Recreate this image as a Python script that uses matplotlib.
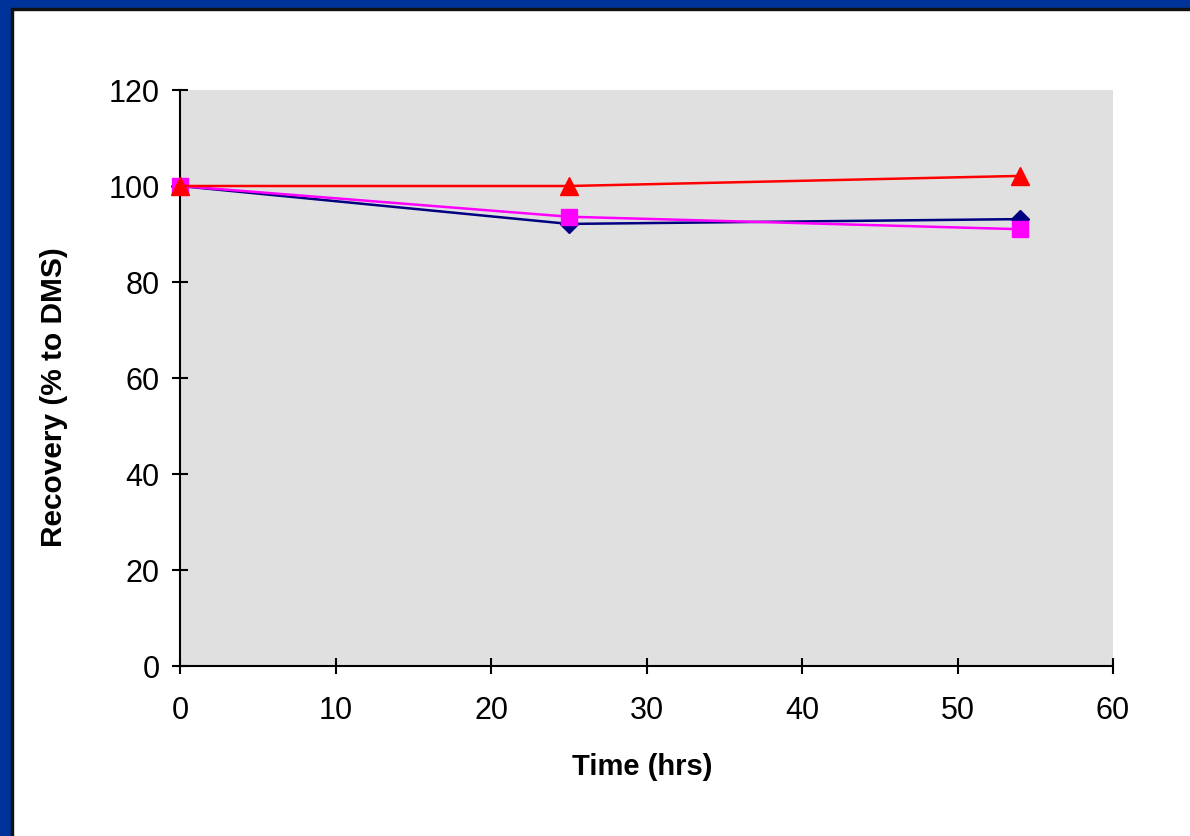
from matplotlib import pyplot as plt
from matplotlib.patches import Rectangle

# Recovery vs time, three series
time_hrs = [0, 25, 54]
series_blue = [100, 92.1, 93.1]
series_magenta = [100, 93.6, 91.0]
series_red = [100, 100, 102.1]

x_ticks = [0, 10, 20, 30, 40, 50, 60]
y_ticks = [0, 20, 40, 60, 80, 100, 120]

plt.rcParams['font.family'] = ['Liberation Sans', 'DejaVu Sans']

W, H = 1190, 836
fig = plt.figure(figsize=(W / 100, H / 100), dpi=100)
fig.patch.set_facecolor('white')

# slide-style frame: blue band left and top with a thin dark line inside
fig.patches.append(Rectangle((0, 0), 11 / W, 1, transform=fig.transFigure,
                             color='#003399', zorder=0))
fig.patches.append(Rectangle((0, 1 - 8 / H), 1, 8 / H, transform=fig.transFigure,
                             color='#003399', zorder=0))
fig.patches.append(Rectangle((11 / W, 0), 2 / W, 1 - 8 / H, transform=fig.transFigure,
                             color='#111111', zorder=1))
fig.patches.append(Rectangle((11 / W, 1 - 10 / H), 1 - 11 / W, 2 / H,
                             transform=fig.transFigure, color='#111111', zorder=1))

ax = fig.add_axes([180 / W, (H - 666) / H, (1113 - 180) / W, (666 - 90) / H])
ax.set_facecolor('#e0e0e0')

ax.plot(time_hrs, series_blue, color='#000080', lw=1.8, marker='D', markersize=9,
        clip_on=False, zorder=3)
ax.plot(time_hrs, series_magenta, color='#ff00ff', lw=1.8, marker='s', markersize=11,
        clip_on=False, zorder=4)
ax.plot(time_hrs, series_red, color='#ff0000', lw=1.8, marker='^', markersize=13,
        clip_on=False, zorder=5)

ax.set_xlim(0, 60)
ax.set_ylim(0, 120)
ax.set_xticks(x_ticks)
ax.set_yticks(y_ticks)

for side in ['top', 'right']:
    ax.spines[side].set_visible(False)
for side in ['left', 'bottom']:
    ax.spines[side].set_linewidth(1.5)

ax.tick_params(axis='both', direction='inout', length=11, width=1.5, labelsize=22)
ax.tick_params(axis='y', pad=9)
ax.tick_params(axis='x', pad=16)

ax.set_xlabel('Time (hrs)', fontsize=21, fontweight='bold')
ax.set_ylabel('Recovery (% to DMS)', fontsize=21.5, fontweight='bold')
ax.xaxis.set_label_coords(0.495, -0.151)
ax.yaxis.set_label_coords(-0.12, 0.467)

plt.savefig('out.png', dpi=100)
